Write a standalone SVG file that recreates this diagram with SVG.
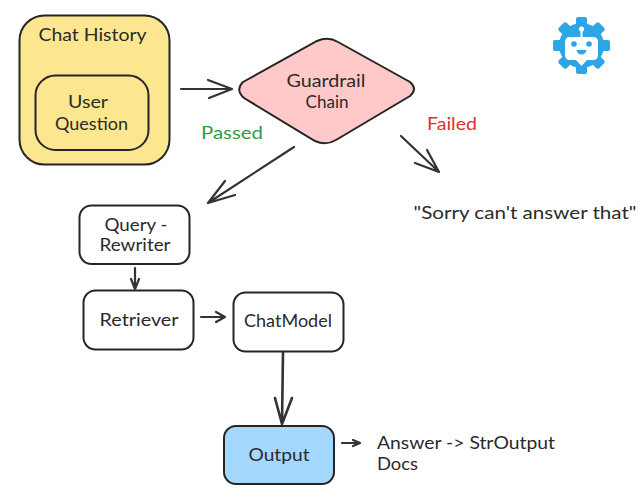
<svg xmlns="http://www.w3.org/2000/svg" width="644" height="504" viewBox="0 0 644 504">
<style>
text{font-family:"Lato","Noto Sans",sans-serif;font-size:17px;font-weight:400;fill:#2a2a2a;text-anchor:middle}
.n{stroke:#252525;stroke-width:2;fill:#fff}
.c path{fill:none;stroke:#333;stroke-width:2.2;stroke-linecap:round;stroke-linejoin:round}
</style>
<rect width="644" height="504" fill="#fff"/>
<g id="chat-history">
<rect class="n" x="19.500" y="15.500" width="150" height="149" rx="25" style="fill:#fce68f"/>
<text x="92.500" y="41" textLength="108" lengthAdjust="spacingAndGlyphs">Chat History</text>
</g>
<g id="user-question">
<rect class="n" x="35.500" y="75.500" width="113" height="74.500" rx="20" style="fill:#fce68f"/>
<text x="88" y="108" textLength="40" lengthAdjust="spacingAndGlyphs">User</text>
<text x="91.500" y="130" textLength="73" lengthAdjust="spacingAndGlyphs">Question</text>
</g>
<g id="guardrail">
<path class="n" style="fill:#ffc9c9" d="M243 82L317 41Q328 36 338 42L410 82Q418 89 410 96L336 140Q326 146 315 141L244 98Q235 90 243 82Z"/>
<text x="326" y="87" textLength="79" lengthAdjust="spacingAndGlyphs">Guardrail</text>
<text x="327" y="108" textLength="43" lengthAdjust="spacingAndGlyphs">Chain</text>
</g>
<g id="query-rewriter">
<rect class="n" x="79.500" y="205.500" width="110" height="58.500" rx="12"/>
<text x="136" y="231" textLength="63" lengthAdjust="spacingAndGlyphs">Query -</text>
<text x="135" y="251" textLength="71" lengthAdjust="spacingAndGlyphs">Rewriter</text>
</g>
<g id="retriever">
<rect class="n" x="83.500" y="290.500" width="110" height="59" rx="12"/>
<text x="139" y="326" textLength="79" lengthAdjust="spacingAndGlyphs">Retriever</text>
</g>
<g id="chatmodel">
<rect class="n" x="233.500" y="292.500" width="110" height="59" rx="12"/>
<text x="288" y="327" textLength="88" lengthAdjust="spacingAndGlyphs">ChatModel</text>
</g>
<g id="output">
<rect class="n" x="224" y="426" width="110" height="58" rx="12" style="fill:#a5d8ff"/>
<text x="279" y="461" textLength="61" lengthAdjust="spacingAndGlyphs">Output</text>
</g>
<g class="c" id="connectors">
<path d="M181 89L232 89M208 80L232 89L209 98"/>
<path d="M294 147L208 203M225 181L208 203L235 195"/>
<path d="M401 136L439 172M427 150L439 172L415 163"/>
<path d="M135 268L135 289M131 279L135 289L139 279"/>
<path d="M201 317L225 317M216 312L225 317L216 322"/>
<path d="M283 352L282 424M275 398L282 424L292 398" style="stroke-width:2.6"/>
<path d="M342 443L360 443M353 440L360 443L353 446"/>
</g>
<text x="232" y="139" textLength="62" lengthAdjust="spacingAndGlyphs" style="fill:#2f9e44">Passed</text>
<text x="452" y="130" textLength="50" lengthAdjust="spacingAndGlyphs" style="fill:#e03131">Failed</text>
<text x="525" y="219" textLength="223" lengthAdjust="spacingAndGlyphs">"Sorry can't answer that"</text>
<text x="466" y="449" textLength="178" lengthAdjust="spacingAndGlyphs">Answer -&gt; StrOutput</text>
<text x="397.500" y="470" textLength="41" lengthAdjust="spacingAndGlyphs">Docs</text>
<g id="logo">
<g fill="#2ea6e6">
<circle cx="581.500" cy="45.500" r="22.500"/>
<g id="t"><rect x="576" y="17" width="11" height="12" rx="2"/><rect x="576" y="62" width="11" height="12" rx="2"/><rect x="553" y="40" width="12" height="11" rx="2"/><rect x="598" y="40" width="12" height="11" rx="2"/></g>
<use href="#t" transform="rotate(45 581.500 45.500)"/>
</g>
<path fill="#fff" d="M570 37H593Q598 37 598 42V55Q598 60 593 60H587L581.500 66L576 60H570Q565 60 565 55V42Q565 37 570 37Z"/>
<path d="M581.500 37V30" stroke="#fff" stroke-width="2"/>
<circle cx="581.500" cy="29" r="2.500" fill="#fff"/>
<circle cx="574" cy="44" r="2.800" fill="#2ea6e6"/>
<circle cx="589" cy="44" r="2.800" fill="#2ea6e6"/>
<path d="M576.500 50H586.500Q585.500 54.500 581.500 54.500Q577.500 54.500 576.500 50Z" fill="#2ea6e6"/>
</g>
</svg>
